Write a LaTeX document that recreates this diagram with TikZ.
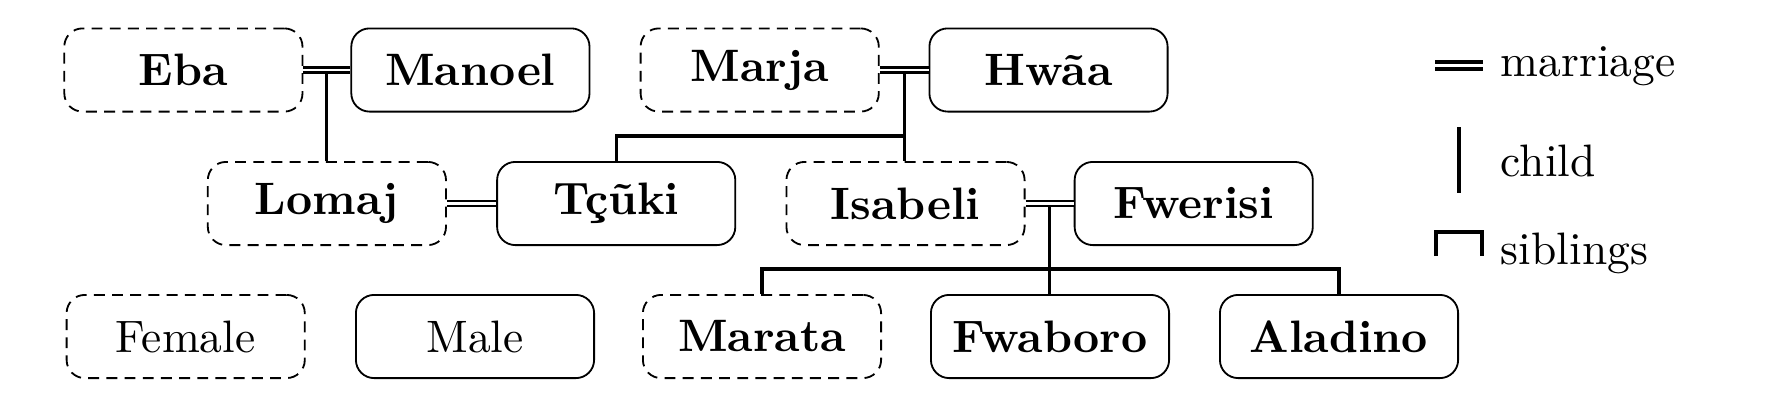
\documentclass[tikz,border=0pt]{standalone}
\usetikzlibrary{calc}
\begin{document}
\begin{tikzpicture}[x=0.22pt,y=-0.22pt,
  person/.style={draw,rounded corners=4pt,minimum width=52.4pt,minimum height=18.3pt,inner sep=0pt,line width=0.4pt,font=\bfseries},
  fem/.style={person,dash pattern=on 2.4pt off 1.6pt},
  plain/.style={font=\mdseries},
  marriage/.style={double,double distance=0.45pt,line width=0.6pt},
  link/.style={line width=0.7pt},
  legendtext/.style={anchor=base west,inner sep=0pt}]
\useasboundingbox (0,0) rectangle (1786,402);
% row 1
\node[fem] (Eba) at (183.4,70) {Eba};
\node[person] (Manoel) at (470.4,70) {Manoel};
\node[fem] (Marja) at (759.7,70) {Marja};
\node[person] (Hwaa) at (1048.5,70) {Hw\~aa};
% row 2
\node[fem] (Lomaj) at (326.9,203.5) {Lomaj};
\node[person] (Tcuki) at (616.2,203.5) {T\c{c}\~uki};
\node[fem] (Isabeli) at (905.5,203.5) {Isabeli};
\node[person] (Fwerisi) at (1193.7,203.5) {Fwerisi};
% row 3
\node[fem,plain] (Female) at (185.7,336.5) {Female};
\node[person,plain] (Male) at (475,336.5) {Male};
\node[fem] (Marata) at (762,336.5) {Marata};
\node[person] (Fwaboro) at (1050,336.5) {Fwaboro};
\node[person] (Aladino) at (1339,336.5) {Aladino};
% marriages
\coordinate (m1) at ($(Eba.east)!0.5!(Manoel.west)$);
\coordinate (m2) at ($(Marja.east)!0.5!(Hwaa.west)$);
\coordinate (m3) at ($(Isabeli.east)!0.5!(Fwerisi.west)$);
\coordinate (m4) at ($(Lomaj.east)!0.5!(Tcuki.west)$);
\draw[link] (m1) -- (m1 |- Lomaj.north);
\draw[link] (m2) -- (m2 |- Isabeli.north);
\draw[link] (Tcuki.north) -- ++(0,-25) -| (m2 |- Isabeli.north);
\draw[link] (m3) -- (m3 |- Fwaboro.north);
\draw[link] (Marata.north) -- ++(0,-25) -| (Aladino.north);
\draw[marriage] (Eba.east) -- (Manoel.west);
\draw[marriage] (Marja.east) -- (Hwaa.west);
\draw[marriage] (Isabeli.east) -- (Fwerisi.west);
\draw[marriage] (Lomaj.east) -- (Tcuki.west);
% legend
\coordinate (lm1) at (1435,65.5);
\coordinate (lm2) at (1483,65.5);
\draw[double,double distance=0.75pt,line width=0.85pt] (lm1) -- (lm2);
\node[legendtext] (tm) at (1500,76.5) {marriage};
\coordinate (lc1) at (1459,127);
\coordinate (lc2) at (1459,193);
\draw[link] (lc1) -- (lc2);
\node[legendtext] (tc) at (1500,176.5) {child};
\coordinate (ls1) at (1436,256);
\coordinate (ls2) at (1482,256);
\draw[link] (ls1) -- ++(0,-24) -| (ls2);
\node[legendtext] (ts) at (1500,264) {siblings};
\end{tikzpicture}
\end{document}
